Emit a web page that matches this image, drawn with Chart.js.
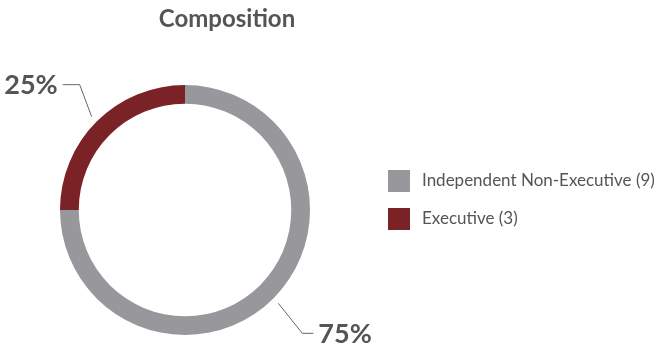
<!DOCTYPE html>
<html>
<head>
<meta charset="utf-8">
<script src="https://cdn.jsdelivr.net/npm/chart.js@4.4.0/dist/chart.umd.min.js"></script>
<style>
  body { margin: 0; background: #fff; }
  canvas { display: block; }
</style>
</head>
<body>
<canvas id="chart" width="662" height="347"></canvas>
<script>
const labels = ["Independent Non-Executive", "Executive"];
const counts = [9, 3];
const colors = ["#98989c", "#7b2227"];
const title = "Composition";

const textColor = "#555555";
const total = counts.reduce((a, b) => a + b, 0);
// leader line shape per slice: [elbow dx, elbow dy, horizontal run]
const leaders = [[24, 30, 11], [-12, -32, 17]];

// draws title, percent labels with leader lines and the legend
const decorations = {
  id: "decorations",
  afterDraw(chart) {
    const ctx = chart.ctx;
    const meta = chart.getDatasetMeta(0);
    ctx.save();

    ctx.fillStyle = textColor;
    ctx.font = "bold 24px Lato";
    ctx.textAlign = "center";
    ctx.textBaseline = "middle";
    ctx.fillText(title, 227, 19);

    meta.data.forEach((arc, i) => {
      const mid = (arc.startAngle + arc.endAngle) / 2;
      const r = arc.outerRadius + 7;
      const sx = arc.x + Math.cos(mid) * r, sy = arc.y + Math.sin(mid) * r;
      const [ldx, ldy, run] = leaders[i];
      const side = ldx < 0 ? -1 : 1;
      const ex = sx + ldx, ey = sy + ldy;
      const hx = ex + side * run;
      ctx.strokeStyle = "#666";
      ctx.lineWidth = 1;
      ctx.beginPath();
      ctx.moveTo(sx, sy);
      ctx.lineTo(ex, ey);
      ctx.lineTo(hx, ey);
      ctx.stroke();
      const pct = Math.round(counts[i] / total * 100) + "%";
      ctx.font = "bold 27px Lato";
      ctx.textAlign = side < 0 ? "right" : "left";
      ctx.fillText(pct, hx + side * 5, ey + 1);
    });

    ctx.font = "17px Lato";
    ctx.textAlign = "left";
    labels.forEach((lab, i) => {
      const y = 181 + i * 38;
      ctx.fillStyle = colors[i];
      ctx.fillRect(388, y - 11, 22, 22);
      ctx.fillStyle = textColor;
      ctx.fillText(lab + " (" + counts[i] + ")", 422, y);
    });
    ctx.restore();
  }
};

new Chart(document.getElementById("chart"), {
  type: "doughnut",
  data: {
    labels: labels,
    datasets: [{
      data: counts,
      backgroundColor: colors,
      borderWidth: 0
    }]
  },
  options: {
    responsive: false,
    animation: false,
    cutout: "85%",
    layout: { padding: { left: 60, right: 352, top: 85, bottom: 12 } },
    plugins: {
      legend: { display: false },
      title: { display: false },
      tooltip: { enabled: false }
    }
  },
  plugins: [decorations]
});
</script>
</body>
</html>
